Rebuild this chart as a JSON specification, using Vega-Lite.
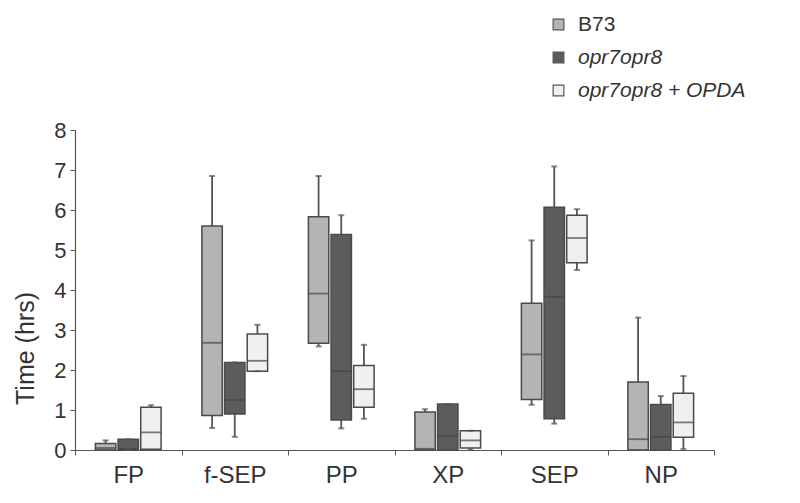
{
  "$schema": "https://vega.github.io/schema/vega-lite/v6.json",
  "width": 639,
  "height": 320,
  "autosize": "none",
  "padding": {"left": 75, "top": 130, "right": 86, "bottom": 53},
  "background": "white",
  "config": {
    "view": {"stroke": null},
    "font": "Liberation Sans",
    "axis": {"labelFont": "Liberation Sans", "titleFont": "Liberation Sans", "labelColor": "#333", "titleColor": "#333", "domainColor": "#555", "tickColor": "#555", "grid": false}
  },
  "data": {"values": [
    {"cat": "FP", "geno": "B73", "min": 0, "q1": 0, "med": 0.05, "q3": 0.16, "max": 0.24},
    {"cat": "FP", "geno": "opr7opr8", "min": 0, "q1": 0, "med": 0.02, "q3": 0.27, "max": 0.27},
    {"cat": "FP", "geno": "opr7opr8 + OPDA", "min": 0, "q1": 0.02, "med": 0.44, "q3": 1.07, "max": 1.12},
    {"cat": "f-SEP", "geno": "B73", "min": 0.55, "q1": 0.86, "med": 2.68, "q3": 5.6, "max": 6.85},
    {"cat": "f-SEP", "geno": "opr7opr8", "min": 0.33, "q1": 0.9, "med": 1.25, "q3": 2.19, "max": 2.19},
    {"cat": "f-SEP", "geno": "opr7opr8 + OPDA", "min": 1.97, "q1": 1.97, "med": 2.23, "q3": 2.9, "max": 3.13},
    {"cat": "PP", "geno": "B73", "min": 2.59, "q1": 2.67, "med": 3.91, "q3": 5.83, "max": 6.85},
    {"cat": "PP", "geno": "opr7opr8", "min": 0.54, "q1": 0.75, "med": 1.97, "q3": 5.39, "max": 5.87},
    {"cat": "PP", "geno": "opr7opr8 + OPDA", "min": 0.78, "q1": 1.07, "med": 1.52, "q3": 2.11, "max": 2.63},
    {"cat": "XP", "geno": "B73", "min": 0, "q1": 0, "med": 0.03, "q3": 0.95, "max": 1.02},
    {"cat": "XP", "geno": "opr7opr8", "min": 0, "q1": 0, "med": 0.35, "q3": 1.15, "max": 1.15},
    {"cat": "XP", "geno": "opr7opr8 + OPDA", "min": 0, "q1": 0.05, "med": 0.24, "q3": 0.48, "max": 0.48},
    {"cat": "SEP", "geno": "B73", "min": 1.13, "q1": 1.26, "med": 2.39, "q3": 3.67, "max": 5.24},
    {"cat": "SEP", "geno": "opr7opr8", "min": 0.66, "q1": 0.78, "med": 3.83, "q3": 6.07, "max": 7.09},
    {"cat": "SEP", "geno": "opr7opr8 + OPDA", "min": 4.5, "q1": 4.68, "med": 5.3, "q3": 5.87, "max": 6.02},
    {"cat": "NP", "geno": "B73", "min": 0, "q1": 0, "med": 0.27, "q3": 1.7, "max": 3.31},
    {"cat": "NP", "geno": "opr7opr8", "min": 0, "q1": 0, "med": 0.33, "q3": 1.14, "max": 1.35},
    {"cat": "NP", "geno": "opr7opr8 + OPDA", "min": 0.02, "q1": 0.32, "med": 0.69, "q3": 1.42, "max": 1.85}
  ]},
  "encoding": {
    "x": {"field": "cat", "type": "nominal", "sort": ["FP", "f-SEP", "PP", "XP", "SEP", "NP"],
      "scale": {"paddingInner": 0, "paddingOuter": 0},
      "axis": {"title": null, "labelAngle": 0, "labelFontSize": 24, "labelPadding": 8, "tickBand": "extent", "tickSize": 5, "domainWidth": 1.2}},
    "xOffset": {"field": "geno", "type": "nominal", "sort": ["B73", "opr7opr8", "opr7opr8 + OPDA"],
      "scale": {"paddingInner": 0.1, "paddingOuter": 0.9}}
  },
  "layer": [
    {
      "mark": {"type": "rule", "color": "#555", "strokeWidth": 1.8},
      "encoding": {
        "y": {"field": "min", "type": "quantitative", "scale": {"domain": [0, 8], "nice": false},
          "axis": {"title": "Time (hrs)", "titleFontSize": 25, "titleFontWeight": "normal", "titleX": -42, "titleY": 218, "titleBaseline": "alphabetic", "titleAlign": "center", "labelFontSize": 22, "values": [0,1,2,3,4,5,6,7,8], "labelOverlap": false, "tickSize": 5, "labelPadding": 4, "domainWidth": 1.2}},
        "y2": {"field": "q1"}
      }
    },
    {
      "mark": {"type": "rule", "color": "#555", "strokeWidth": 1.8},
      "encoding": {
        "y": {"field": "q3", "type": "quantitative",
          "axis": {"title": "Time (hrs)", "titleFontSize": 25, "titleFontWeight": "normal", "titleX": -42, "titleY": 218, "titleBaseline": "alphabetic", "titleAlign": "center", "labelFontSize": 22, "values": [0,1,2,3,4,5,6,7,8], "labelOverlap": false, "tickSize": 5, "labelPadding": 4, "domainWidth": 1.2}},
        "y2": {"field": "max"}
      }
    },
    {
      "mark": {"type": "bar", "stroke": "#4a4a4a", "strokeWidth": 1.5},
      "encoding": {
        "y": {"field": "q1", "type": "quantitative",
          "axis": {"title": "Time (hrs)", "titleFontSize": 25, "titleFontWeight": "normal", "titleX": -42, "titleY": 218, "titleBaseline": "alphabetic", "titleAlign": "center", "labelFontSize": 22, "values": [0,1,2,3,4,5,6,7,8], "labelOverlap": false, "tickSize": 5, "labelPadding": 4, "domainWidth": 1.2}},
        "y2": {"field": "q3"},
        "fill": {"field": "geno", "type": "nominal",
          "scale": {"domain": ["B73", "opr7opr8", "opr7opr8 + OPDA"], "range": ["#b4b4b4", "#5c5c5c", "#f0f0f0"]},
          "legend": {"title": null, "orient": "none", "legendX": 473, "legendY": -116, "symbolType": "square", "symbolSize": 115, "symbolStrokeColor": "#555", "symbolStrokeWidth": 1.2, "labelFontSize": 21, "labelFont": "Liberation Sans", "labelColor": "#333", "labelOffset": 9, "rowPadding": 11, "padding": 0,
            "labelLimit": 300,
            "encode": {"labels": {"update": {"fontStyle": {"signal": "datum.value == 'B73' ? 'normal' : 'italic'"}}}}}}
      }
    },
    {
      "mark": {"type": "tick", "color": "#444", "thickness": 1.8, "size": 20},
      "encoding": {
        "y": {"field": "med", "type": "quantitative",
          "axis": {"title": "Time (hrs)", "titleFontSize": 25, "titleFontWeight": "normal", "titleX": -42, "titleY": 218, "titleBaseline": "alphabetic", "titleAlign": "center", "labelFontSize": 22, "values": [0,1,2,3,4,5,6,7,8], "labelOverlap": false, "tickSize": 5, "labelPadding": 4, "domainWidth": 1.2}}
      }
    },
    {
      "mark": {"type": "tick", "color": "#555", "thickness": 2, "size": 6},
      "encoding": {
        "y": {"field": "max", "type": "quantitative",
          "axis": {"title": "Time (hrs)", "titleFontSize": 25, "titleFontWeight": "normal", "titleX": -42, "titleY": 218, "titleBaseline": "alphabetic", "titleAlign": "center", "labelFontSize": 22, "values": [0,1,2,3,4,5,6,7,8], "labelOverlap": false, "tickSize": 5, "labelPadding": 4, "domainWidth": 1.2}}
      }
    },
    {
      "mark": {"type": "tick", "color": "#555", "thickness": 2, "size": 6},
      "encoding": {
        "y": {"field": "min", "type": "quantitative",
          "axis": {"title": "Time (hrs)", "titleFontSize": 25, "titleFontWeight": "normal", "titleX": -42, "titleY": 218, "titleBaseline": "alphabetic", "titleAlign": "center", "labelFontSize": 22, "values": [0,1,2,3,4,5,6,7,8], "labelOverlap": false, "tickSize": 5, "labelPadding": 4, "domainWidth": 1.2}}
      }
    }
  ]
}
